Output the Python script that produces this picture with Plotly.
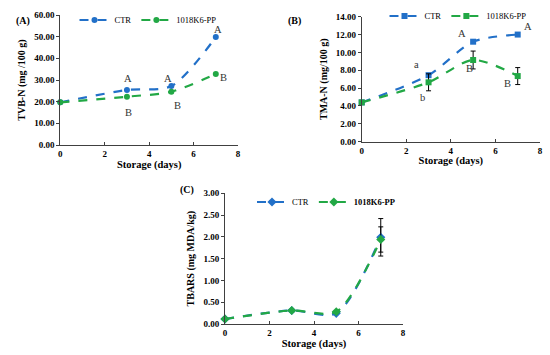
import plotly.graph_objects as go

days = [0, 3, 5, 7]

# Panel A: TVB-N
tvbn_ctr = [19.7, 25.4, 27.2, 49.8]
tvbn_pp = [19.7, 22.3, 24.6, 32.8]

# Panel B: TMA-N
tma_ctr = [4.4, 7.45, 11.2, 12.0]
tma_pp = [4.4, 6.65, 9.15, 7.35]
tma_pp_err = [0, 0.95, 1.0, 0.95]

# Panel C: TBARS
tbars_ctr = [0.115, 0.31, 0.245, 1.99]
tbars_pp = [0.115, 0.31, 0.28, 1.94]
tbars_ctr_err = [0, 0, 0, 0.43]
tbars_pp_err = [0, 0, 0, 0.29]

letters_a = [(3.06, 30.5, "A"), (3.06, 15.2, "B"), (4.86, 30.5, "A"), (5.27, 18.0, "B"), (7.1, 53.5, "A"), (7.33, 31.0, "B")]
letters_b = [(2.47, 8.7, "a"), (2.73, 5.0, "b"), (4.51, 12.1, "A"), (4.83, 8.2, "B"), (7.47, 12.9, "A"), (6.53, 6.5, "B")]

BLUE = "#2270C8"
GREEN = "#22A845"
FONT = "Liberation Serif"

fig = go.Figure()

def add_series(x, y, name, color, symbol, xa, ya, legend, err=None, size=6):
    kw = {}
    if err is not None:
        kw["error_y"] = dict(type="data", array=err, visible=True, color="black", thickness=1, width=2.5)
    fig.add_trace(go.Scatter(
        x=x, y=y, name=name, mode="lines+markers",
        line=dict(color=color, width=2.2, dash="dash", shape="spline", smoothing=0.8),
        marker=dict(color=color, symbol=symbol, size=size),
        xaxis=xa, yaxis=ya, legend=legend, cliponaxis=False, **kw))

add_series(days, tvbn_ctr, "CTR", BLUE, "circle", "x", "y", "legend")
add_series(days, tvbn_pp, "1018K6-PP", GREEN, "circle", "x", "y", "legend")
add_series(days, tma_ctr, "CTR", BLUE, "square", "x2", "y2", "legend2")
add_series(days, tma_pp, "1018K6-PP", GREEN, "square", "x2", "y2", "legend2", err=tma_pp_err)
add_series(days, tbars_ctr, "CTR", BLUE, "diamond", "x3", "y3", "legend3", err=tbars_ctr_err, size=7)
add_series(days, tbars_pp, "<b>1018K6-PP</b>", GREEN, "diamond", "x3", "y3", "legend3", err=tbars_pp_err, size=7)

W, H = 550, 355
def px_x(a):
    return a / W
def px_y(b):
    return 1 - b / H
def dx(a, b):
    return [px_x(a), px_x(b)]
def dy(top, bot):
    return [px_y(bot), px_y(top)]

xcommon = dict(range=[0, 8], dtick=2, showline=True, linecolor="#404040", linewidth=1, automargin=False,
               ticks="inside", ticklen=3, tickcolor="#404040", showgrid=False, zeroline=False,
               tickfont=dict(family=FONT, size=9, color="black", weight="bold"),
               title=dict(text="<b>Storage (days)</b>", font=dict(family=FONT, size=10.5, color="black"), standoff=1))
ycommon = dict(showline=True, linecolor="#404040", linewidth=1, ticks="outside", ticklen=3, automargin=False,
               tickcolor="#404040", showgrid=False, zeroline=False, tickformat=".2f",
               tickfont=dict(family=FONT, size=9, color="black", weight="bold"))

def ttl(t):
    return dict(text="<b>" + t + "</b>", font=dict(family=FONT, size=10, color="black"), standoff=6)

LEGFONT = dict(family=FONT, size=8.5)
fig.update_layout(
    width=W, height=H, margin=dict(l=0, r=0, t=0, b=0, autoexpand=False),
    paper_bgcolor="white", plot_bgcolor="white",
    font=dict(family=FONT, color="black"),
    xaxis=dict(domain=dx(60.3, 238), anchor="y", **xcommon),
    yaxis=dict(domain=dy(15, 145), anchor="x", range=[0, 60], dtick=10, title=ttl("TVB-N (mg /100 g)"), **ycommon),
    xaxis2=dict(domain=dx(361.7, 540), anchor="y2", **xcommon),
    yaxis2=dict(domain=dy(16.7, 141.7), anchor="x2", range=[0, 14], dtick=2, title=ttl("TMA-N (mg/100 g)"), **ycommon),
    xaxis3=dict(domain=dx(225, 403), anchor="y3", **xcommon),
    yaxis3=dict(domain=dy(193.3, 324), anchor="x3", range=[0, 3], dtick=0.5, title=ttl("TBARS (mg MDA/kg)"), **ycommon),
    legend=dict(orientation="h", x=px_x(148), y=px_y(20), xanchor="center", yanchor="middle",
                font=LEGFONT, bgcolor="rgba(0,0,0,0)", itemwidth=30),
    legend2=dict(orientation="h", x=px_x(458), y=px_y(16), xanchor="center", yanchor="middle",
                 font=LEGFONT, bgcolor="rgba(0,0,0,0)", itemwidth=30),
    legend3=dict(orientation="h", x=px_x(326), y=px_y(202), xanchor="center", yanchor="middle",
                 font=LEGFONT, bgcolor="rgba(0,0,0,0)", itemwidth=30),
    showlegend=True,
)

anns = []
for (x, y, t) in letters_a:
    anns.append(dict(x=x, y=y, xref="x", yref="y", text=t, showarrow=False, font=dict(family=FONT, size=10.5, color="#333")))
for (x, y, t) in letters_b:
    anns.append(dict(x=x, y=y, xref="x2", yref="y2", text=t, showarrow=False, font=dict(family=FONT, size=10.5, color="#333")))
for (px, py, t) in [(14, 13, "(A)"), (294, 13, "(B)"), (187, 190, "(C)")]:
    anns.append(dict(x=px_x(px), y=px_y(py), xref="paper", yref="paper", text="<b>" + t + "</b>",
                     showarrow=False, font=dict(family=FONT, size=10, color="black")))
fig.update_layout(annotations=anns)

fig.write_html("out.html", config={"displayModeBar": False},
               post_script="document.body.style.margin='0px';")
